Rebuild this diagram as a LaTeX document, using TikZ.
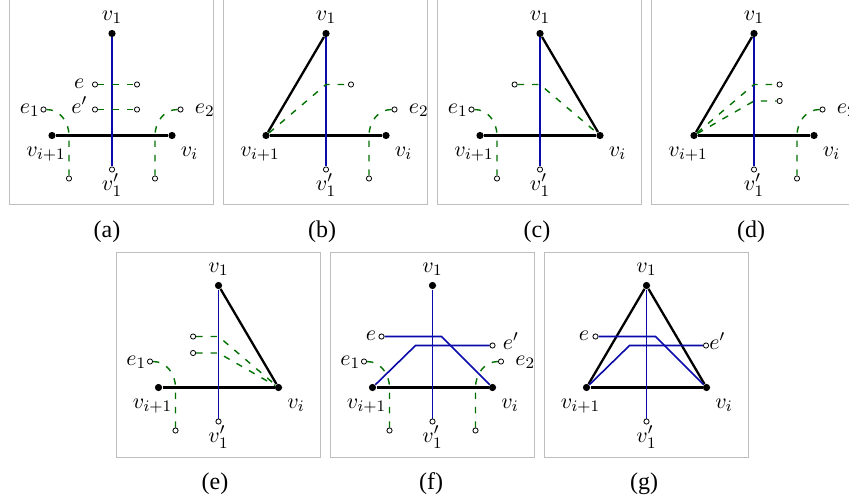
\documentclass[tikz,border=0pt]{standalone}
\usepackage{fontspec}
\newfontfamily\capfont{Liberation Serif}
\definecolor{framegray}{RGB}{190,190,190}
\definecolor{dblue}{RGB}{10,10,170}
\definecolor{dgreen}{RGB}{0,112,0}
\pgfdeclarelayer{bg}
\pgfsetlayers{bg,main}
\tikzset{
  pnl/.style={draw=framegray, line width=0.5pt},
  edgek/.style={draw=black, line width=1.15pt},
  blueln/.style={draw=dblue, line width=0.8pt},
  grn/.style={draw=dgreen, line width=0.7pt, dash pattern=on 3.2pt off 4pt},
  vdot/.style={circle, fill=black, inner sep=0pt, minimum size=3.6pt},
  hole/.style={circle, draw=black, fill=white, line width=0.4pt, inner sep=0pt, minimum size=2.6pt},
  lab/.style={inner sep=0pt, font=\fontsize{10.8}{13}\selectfont},
  captxt/.style={inner sep=0pt, font=\capfont\fontsize{12}{14}\selectfont}
}
\newcommand{\mkbase}[1]{%
  \node[vdot] (#1-v1) at (0,102) {};
  \node[vdot] (#1-vl) at (-60,0) {};
  \node[vdot] (#1-vr) at (60,0) {};
  \node[hole] (#1-vb) at (0,-34) {};
  \node[lab,anchor=base] (#1-lv1) at (0,115) {$v_1$};
  \node[lab,anchor=base] (#1-lvl) at (-66,-21) {$v_{i+1}$};
  \node[lab,anchor=base] (#1-lvr) at (77.5,-21) {$v_i$};
  \node[lab,anchor=base] (#1-lvb) at (0,-55) {$v_1'$};
  \begin{pgfonlayer}{bg}
    \draw[edgek] (#1-vl) -- (#1-vr);
    \draw[blueln] (#1-v1) -- (#1-vb);
  \end{pgfonlayer}%
}
\newcommand{\mkleft}[1]{%
  \node[hole] (#1-e1) at (-68.5,26) {};
  \node[hole] (#1-b1) at (-43,-43) {};
  \coordinate (#1-k1) at (-43,0);
  \node[lab,anchor=base east] (#1-le1) at (-72,22) {$e_1$};
  \begin{pgfonlayer}{bg}
    \draw[grn] (#1-e1) to[out=0,in=90] (#1-k1) -- (#1-b1);
  \end{pgfonlayer}%
}
\newcommand{\mkright}[1]{%
  \node[hole] (#1-e2) at (68.5,26) {};
  \node[hole] (#1-b2) at (43,-43) {};
  \coordinate (#1-k2) at (43,0);
  \node[lab,anchor=base west] (#1-le2) at (82.5,22) {$e_2$};
  \begin{pgfonlayer}{bg}
    \draw[grn] (#1-e2) to[out=180,in=90] (#1-k2) -- (#1-b2);
  \end{pgfonlayer}%
}
\begin{document}
\begin{tikzpicture}[x=0.5pt,y=0.5pt]
\useasboundingbox (0,0) rectangle (849,-502);
% ---------- (a)
\begin{scope}[shift={(112,-135.5)}]
  \draw[pnl] (-103,-68.5) rectangle (101.5,137);
  \mkbase{a}
  \mkleft{a}
  \mkright{a}
  \node[hole] (a-eL) at (-17,51) {};
  \node[hole] (a-eR) at (25,51) {};
  \node[hole] (a-fL) at (-17,26) {};
  \node[hole] (a-fR) at (25,26) {};
  \coordinate (a-em) at (0,51);
  \coordinate (a-fm) at (0,26);
  \node[lab,anchor=base east] (a-le) at (-27.4,47) {$e$};
  \node[lab,anchor=base east] (a-lf) at (-24.4,22) {$e'$};
  \begin{pgfonlayer}{bg}
    \draw[grn] (a-eL) -- (a-em) -- (a-eR);
    \draw[grn] (a-fL) -- (a-fm) -- (a-fR);
  \end{pgfonlayer}
\end{scope}
% ---------- (b)
\begin{scope}[shift={(326,-135.5)}]
  \draw[pnl] (-103,-68.5) rectangle (101.5,137);
  \mkbase{b}
  \mkright{b}
  \node[hole] (b-eR) at (25,51) {};
  \coordinate (b-em) at (0,51);
  \begin{pgfonlayer}{bg}
    \draw[edgek] (b-vl) -- (b-v1);
    \draw[grn] (b-vl) -- (b-em) -- (b-eR);
  \end{pgfonlayer}
\end{scope}
% ---------- (c)
\begin{scope}[shift={(540,-135.5)}]
  \draw[pnl] (-103,-68.5) rectangle (101.5,137);
  \mkbase{c}
  \mkleft{c}
  \node[hole] (c-eL) at (-25.4,51) {};
  \coordinate (c-em) at (0,51);
  \begin{pgfonlayer}{bg}
    \draw[edgek] (c-vr) -- (c-v1);
    \draw[grn] (c-eL) -- (c-em) -- (c-vr);
  \end{pgfonlayer}
\end{scope}
% ---------- (d)
\begin{scope}[shift={(754,-135.5)}]
  \draw[pnl] (-103,-68.5) rectangle (101.5,137);
  \mkbase{d}
  \mkright{d}
  \node[hole] (d-eR) at (25.6,51) {};
  \node[hole] (d-fR) at (25.6,34.5) {};
  \coordinate (d-em) at (0,51);
  \coordinate (d-fm) at (0,34.5);
  \begin{pgfonlayer}{bg}
    \draw[edgek] (d-vl) -- (d-v1);
    \draw[grn] (d-vl) -- (d-em) -- (d-eR);
    \draw[grn] (d-vl) -- (d-fm) -- (d-fR);
  \end{pgfonlayer}
\end{scope}
% ---------- (e)
\begin{scope}[shift={(218.5,-387.5)}]
  \draw[pnl] (-102.5,-69.5) rectangle (102,135.5);
  \mkbase{e}
  \mkleft{e}
  \node[hole] (e-eL) at (-25.4,51) {};
  \node[hole] (e-fL) at (-25.4,34.5) {};
  \coordinate (e-em) at (0,51);
  \coordinate (e-fm) at (0,34.5);
  \begin{pgfonlayer}{bg}
    \draw[edgek] (e-vr) -- (e-v1);
    \draw[grn] (e-eL) -- (e-em) -- (e-vr);
    \draw[grn] (e-fL) -- (e-fm) -- (e-vr);
  \end{pgfonlayer}
\end{scope}
% ---------- (f)
\begin{scope}[shift={(432.5,-387.5)}]
  \draw[pnl] (-102.5,-69.5) rectangle (102,135.5);
  \mkbase{f}
  \mkleft{f}
  \mkright{f}
  \node[hole] (f-e) at (-51,51) {};
  \node[hole] (f-ep) at (60,42) {};
  \coordinate (f-ek) at (9,51);
  \coordinate (f-epk) at (-17,42);
  \node[lab,anchor=base east] (f-le) at (-56,47) {$e$};
  \node[lab,anchor=base west] (f-lep) at (70,38) {$e'$};
  \begin{pgfonlayer}{bg}
    \draw[blueln] (f-e) -- (f-ek) -- (f-vr);
    \draw[blueln] (f-ep) -- (f-epk) -- (f-vl);
  \end{pgfonlayer}
\end{scope}
% ---------- (g)
\begin{scope}[shift={(646.5,-387.5)}]
  \draw[pnl] (-102.5,-69.5) rectangle (102,135.5);
  \mkbase{g}
  \node[hole] (g-e) at (-51,51) {};
  \node[hole] (g-ep) at (59.5,42) {};
  \coordinate (g-ek) at (9,51);
  \coordinate (g-epk) at (-17,42);
  \node[lab,anchor=base east] (g-le) at (-57,47) {$e$};
  \node[lab,anchor=base west] (g-lep) at (62.5,38) {$e'$};
  \begin{pgfonlayer}{bg}
    \draw[edgek] (g-vl) -- (g-v1) -- (g-vr);
    \draw[blueln] (g-e) -- (g-ek) -- (g-vr);
    \draw[blueln] (g-ep) -- (g-epk) -- (g-vl);
  \end{pgfonlayer}
\end{scope}
% ---------- captions
\node[captxt,anchor=base] (capa) at (107,-237) {(a)};
\node[captxt,anchor=base] (capb) at (322,-237) {(b)};
\node[captxt,anchor=base] (capc) at (537,-237) {(c)};
\node[captxt,anchor=base] (capd) at (751,-237) {(d)};
\node[captxt,anchor=base] (cape) at (215,-489) {(e)};
\node[captxt,anchor=base] (capf) at (431,-489) {(f)};
\node[captxt,anchor=base] (capg) at (644,-489) {(g)};
\end{tikzpicture}
\end{document}
